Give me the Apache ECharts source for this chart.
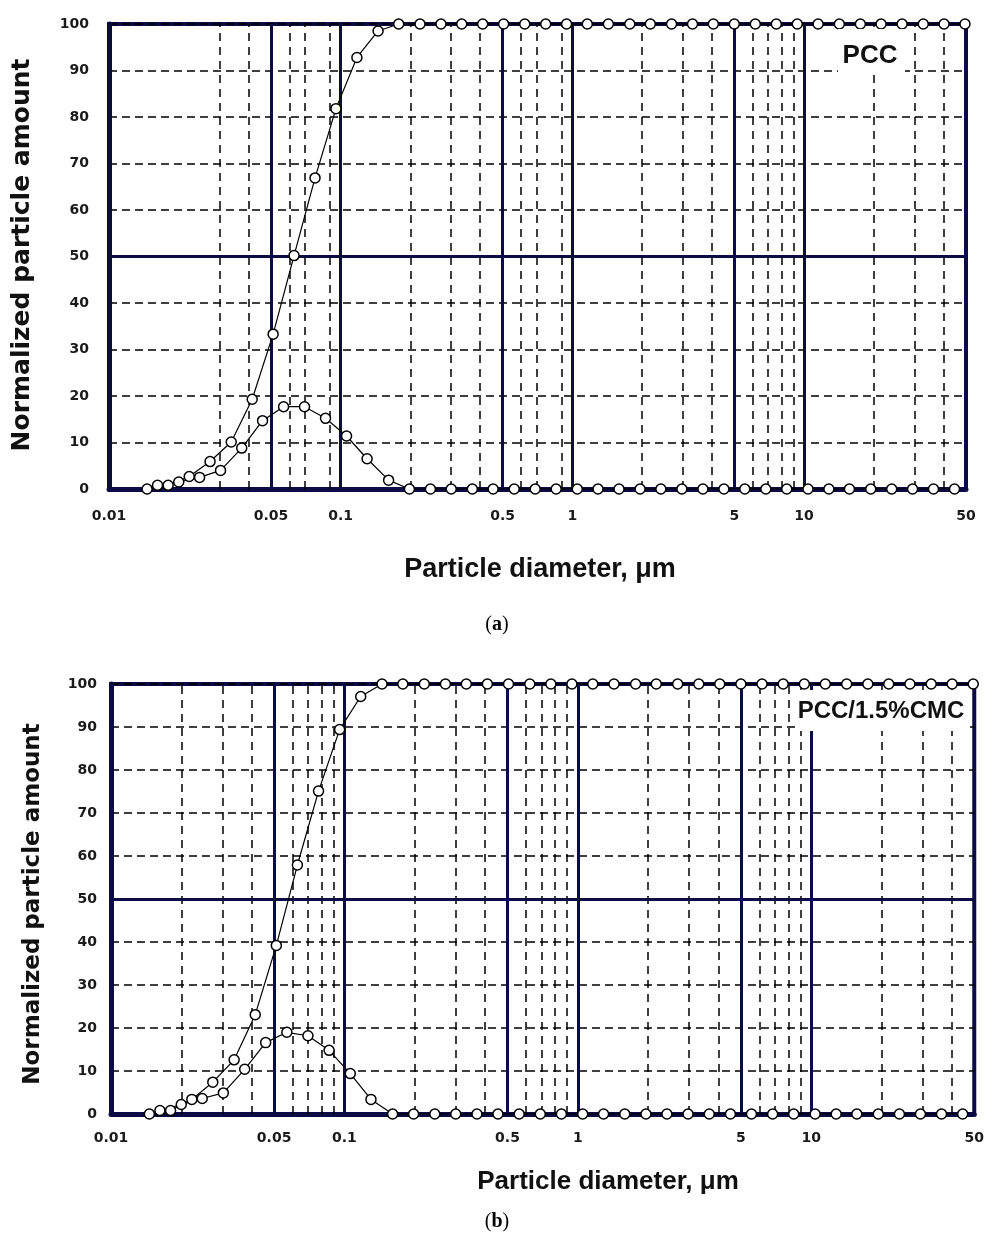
<!DOCTYPE html>
<html>
<head>
<meta charset="utf-8">
<script src="https://cdn.jsdelivr.net/npm/echarts@6/dist/echarts.min.js"></script>
<style>
  html, body { margin: 0; padding: 0; background: #fff; }
  #chart { width: 987px; height: 1237px; }
</style>
</head>
<body>
<div id="chart"></div>
<script>
// particle size classes (µm): cumulative curve is plotted at the class edges, distribution at class centres
var edgeSizes = [0.0146, 0.0180, 0.0222, 0.0273, 0.0337, 0.0415, 0.0511, 0.0629, 0.0775, 0.0954,
  0.1175, 0.145, 0.178, 0.220, 0.271, 0.333, 0.410, 0.505, 0.623, 0.767,
  0.944, 1.16, 1.43, 1.77, 2.17, 2.68, 3.30, 4.06, 5.00, 6.16,
  7.59, 9.35, 11.5, 14.2, 17.5, 21.5, 26.5, 32.7, 40.2, 49.5];
var midSizes = [0.0162, 0.0200, 0.0246, 0.0303, 0.0374, 0.0460, 0.0567, 0.0698, 0.0860, 0.106,
  0.130, 0.161, 0.198, 0.244, 0.300, 0.370, 0.455, 0.561, 0.691, 0.851,
  1.05, 1.29, 1.59, 1.96, 2.41, 2.97, 3.66, 4.51, 5.55, 6.84,
  8.42, 10.4, 12.8, 15.7, 19.4, 23.9, 29.4, 36.2, 44.6];

// (a) PCC
var cumPCC = [0, 0.8, 2.7, 5.9, 10.1, 19.3, 33.3, 50.2, 66.9, 81.8,
  92.8, 98.5, 100, 100, 100, 100, 100, 100, 100, 100,
  100, 100, 100, 100, 100, 100, 100, 100, 100, 100,
  100, 100, 100, 100, 100, 100, 100, 100, 100, 100];
var distPCC = [0.8, 1.5, 2.5, 4.0, 8.8, 14.7, 17.7, 17.7, 15.2, 11.4,
  6.5, 1.9, 0, 0, 0, 0, 0, 0, 0, 0,
  0, 0, 0, 0, 0, 0, 0, 0, 0, 0,
  0, 0, 0, 0, 0, 0, 0, 0, 0];

// (b) PCC/1.5%CMC
var cumCMC = [0, 0.8, 3.4, 7.4, 12.6, 23.1, 39.2, 57.9, 75.1, 89.4,
  97.1, 100, 100, 100, 100, 100, 100, 100, 100, 100,
  100, 100, 100, 100, 100, 100, 100, 100, 100, 100,
  100, 100, 100, 100, 100, 100, 100, 100, 100, 100];
var distCMC = [0.8, 2.2, 3.6, 4.9, 10.4, 16.6, 19.0, 18.2, 14.8, 9.4,
  3.4, 0, 0, 0, 0, 0, 0, 0, 0, 0,
  0, 0, 0, 0, 0, 0, 0, 0, 0, 0,
  0, 0, 0, 0, 0, 0, 0, 0, 0];

var xTickLabels = [0.01, 0.05, 0.1, 0.5, 1, 5, 10, 50];
var yMin = 0, yMax = 100, yStep = 10;
var majorLinesX = [0.05, 0.1, 0.5, 1, 5, 10];
var minorLinesA = [0.03, 0.04, 0.06, 0.07, 0.09, 0.2, 0.3, 0.4, 0.6, 0.7, 0.9, 2, 3, 4, 6, 7, 8, 9, 20, 30, 40];
var minorLinesB = [0.02, 0.03, 0.04, 0.06, 0.07, 0.08, 0.09, 0.2, 0.3, 0.4, 0.6, 0.7, 0.8, 0.9, 2, 3, 4, 6, 7, 8, 9, 20, 30, 40];

var navy = '#0b0b45';
var labelFont = '"DejaVu Sans"';

function pairs(xs, ys) {
  return ys.map(function (y, i) { return [xs[i], y]; });
}

function makeX(idx, margin) {
  return {
    type: 'log', logBase: 10, gridIndex: idx, min: 0.01, max: 50,
    axisLine: { show: true, onZero: false, lineStyle: { color: navy, width: 5 } },
    axisTick: { show: false },
    splitLine: { show: false },
    minorSplitLine: { show: false },
    axisLabel: {
      customValues: xTickLabels,
      formatter: function (v) { return String(v); },
      margin: margin,
      fontFamily: labelFont, fontWeight: 'bold', fontSize: 14, color: '#1a1a1a'
    }
  };
}

function makeY(idx, margin) {
  return {
    type: 'value', gridIndex: idx, min: yMin, max: yMax, interval: yStep,
    axisLine: { show: true, lineStyle: { color: navy, width: 5 } },
    axisTick: { show: false },
    splitLine: { show: true, lineStyle: { color: '#000', width: 1.5, type: [8, 5] } },
    axisLabel: {
      margin: margin,
      fontFamily: labelFont, fontWeight: 'bold', fontSize: 14, color: '#1a1a1a'
    }
  };
}

function gridLines(idx, minors) {
  var items = [];
  minors.forEach(function (v) {
    items.push({ xAxis: v, lineStyle: { color: '#000', width: 1.5, type: [8, 6] } });
  });
  majorLinesX.forEach(function (v) {
    items.push({ xAxis: v, lineStyle: { color: navy, width: 3, type: 'solid' } });
  });
  items.push({ yAxis: 50, lineStyle: { color: navy, width: 3, type: 'solid' } });
  return {
    type: 'line', xAxisIndex: idx, yAxisIndex: idx, data: [], z: 1,
    markLine: { silent: true, symbol: 'none', label: { show: false }, data: items }
  };
}

function curve(idx, xs, ys) {
  return {
    type: 'line', xAxisIndex: idx, yAxisIndex: idx, z: 5,
    data: pairs(xs, ys),
    symbol: 'circle', symbolSize: 10, showAllSymbol: true, clip: false,
    lineStyle: { color: '#000', width: 1.2 },
    itemStyle: { color: '#fff', borderColor: '#000', borderWidth: 1.5 }
  };
}

var chart = echarts.init(document.getElementById('chart'), null, { renderer: 'canvas' });

chart.setOption({
  animation: false,
  backgroundColor: '#fff',
  grid: [
    { left: 109, top: 24, width: 857, height: 465, show: true, borderColor: navy, borderWidth: 4 },
    { left: 111, top: 684, width: 864, height: 430, show: true, borderColor: navy, borderWidth: 4 }
  ],
  xAxis: [makeX(0, 20), makeX(1, 17)],
  yAxis: [makeY(0, 20), makeY(1, 14)],
  series: [
    gridLines(0, minorLinesA),
    gridLines(1, minorLinesB),
    curve(0, midSizes, distPCC),
    curve(0, edgeSizes, cumPCC),
    curve(1, midSizes, distCMC),
    curve(1, edgeSizes, cumCMC)
  ],
  graphic: [
    { type: 'text', x: 22, y: 255, rotation: Math.PI / 2, z: 100,
      style: { text: 'Normalized particle amount', font: 'bold 25px "DejaVu Sans"', fill: '#111', align: 'center', verticalAlign: 'middle' } },
    { type: 'text', x: 33, y: 904, rotation: Math.PI / 2, z: 100,
      style: { text: 'Normalized particle amount', font: 'bold 23px "DejaVu Sans"', fill: '#111', align: 'center', verticalAlign: 'middle' } },
    { type: 'text', x: 540, y: 570, z: 100,
      style: { text: 'Particle diameter, \u03bcm', font: 'bold 27px "Liberation Sans"', fill: '#111', align: 'center', verticalAlign: 'middle' } },
    { type: 'text', x: 608, y: 1182, z: 100,
      style: { text: 'Particle diameter, \u03bcm', font: 'bold 26px "Liberation Sans"', fill: '#111', align: 'center', verticalAlign: 'middle' } },
    { type: 'text', x: 497, y: 625, z: 100,
      style: { text: '({b|a})', font: '20px "Liberation Serif"', fill: '#000', align: 'center', verticalAlign: 'middle',
        rich: { b: { fontWeight: 'bold', fontSize: 20, fontFamily: 'Liberation Serif' } } } },
    { type: 'text', x: 497, y: 1222, z: 100,
      style: { text: '({b|b})', font: '20px "Liberation Serif"', fill: '#000', align: 'center', verticalAlign: 'middle',
        rich: { b: { fontWeight: 'bold', fontSize: 20, fontFamily: 'Liberation Serif' } } } },
    { type: 'rect', z: 90, shape: { x: 838, y: 29, width: 67, height: 43 }, style: { fill: '#fff' } },
    { type: 'text', x: 870, y: 56, z: 100,
      style: { text: 'PCC', font: 'bold 26px "Liberation Sans"', fill: '#111', align: 'center', verticalAlign: 'middle' } },
    { type: 'rect', z: 90, shape: { x: 796, y: 690, width: 174, height: 41 }, style: { fill: '#fff' } },
    { type: 'text', x: 881, y: 711, z: 100,
      style: { text: 'PCC/1.5%CMC', font: 'bold 24px "Liberation Sans"', fill: '#111', align: 'center', verticalAlign: 'middle' } }
  ]
});

window.addEventListener('resize', function () {
  chart.resize();
});
</script>
</body>
</html>
